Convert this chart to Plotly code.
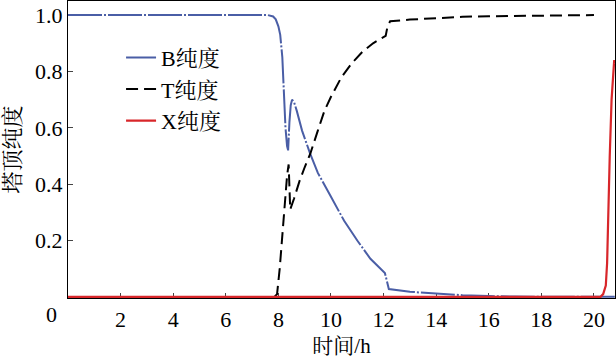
import plotly.graph_objects as go

# ---- data ----
t_B = [0, 7.6, 7.8, 7.9, 8.0, 8.07, 8.15, 8.2, 8.27, 8.33, 8.37, 8.42, 8.47, 8.52, 8.6, 8.7, 8.9, 9.2, 9.5,
       10.0, 10.5, 11.0, 11.5, 12.05, 12.12, 12.2, 13.0, 14.0, 15.0, 16.0, 17.0, 20.8]
B = [1.0, 1.0, 0.995, 0.985, 0.96, 0.93, 0.85, 0.72, 0.6, 0.535, 0.52, 0.62, 0.68, 0.70, 0.69, 0.66, 0.59, 0.51, 0.44,
     0.355, 0.27, 0.20, 0.135, 0.085, 0.06, 0.028, 0.018, 0.011, 0.006, 0.003, 0.001, 0.0]

t_T = [7.85, 7.95, 8.05, 8.15, 8.25, 8.33, 8.39, 8.45, 8.6, 8.8, 9.0, 9.22, 9.5, 9.75, 10.0, 10.4, 10.8,
       11.2, 11.6, 12.08, 12.15, 12.25, 13.0, 14.0, 15.0, 16.0, 18.0, 20.0]
T = [0, 0.01, 0.1, 0.22, 0.34, 0.43, 0.47, 0.31, 0.35, 0.41, 0.46, 0.51, 0.59, 0.66, 0.71, 0.78, 0.83,
     0.87, 0.90, 0.926, 0.96, 0.978, 0.984, 0.99, 0.994, 0.996, 0.998, 1.0]

t_X = [0, 20.25, 20.35, 20.45, 20.5, 20.55, 20.6, 20.67, 20.73, 20.77, 20.8]
X = [0, 0, 0.01, 0.04, 0.12, 0.34, 0.5, 0.70, 0.80, 0.84, 0.83]

x_ticks = [2, 4, 6, 8, 10, 12, 14, 16, 18, 20]
y_ticks = [0.2, 0.4, 0.6, 0.8, 1.0]
y_ticktext = ["0.2", "0.4", "0.6", "0.8", "1.0"]

FONT = '"Liberation Serif", "Noto Serif CJK SC", "Noto Sans CJK SC", serif'
TICKFONT = dict(family="Liberation Serif", size=22, color="black")

fig = go.Figure()
fig.add_trace(go.Scatter(x=t_B, y=B, mode="lines", name="B纯度", legendgroup="b",
                         line=dict(color="#4a5ea6", width=2, dash="34px,2px,2px,2px")))
fig.add_trace(go.Scatter(x=t_T, y=T, mode="lines", name="T纯度", legendgroup="t",
                         line=dict(color="#000000", width=2, dash="12px,6px")))
fig.add_trace(go.Scatter(x=t_X, y=X, mode="lines", name="X纯度", legendgroup="x",
                         line=dict(color="#d8262a", width=2.2)))

fig.update_layout(
    width=616, height=360,
    margin=dict(l=68, r=1, t=1, b=62),
    paper_bgcolor="white", plot_bgcolor="white",
    font=dict(family=FONT, size=22, color="black"),
    showlegend=True,
    legend=dict(x=0.097, y=0.88, xanchor="left", yanchor="top",
                bgcolor="rgba(0,0,0,0)", tracegroupgap=0,
                font=dict(family=FONT, size=22)),
    xaxis=dict(range=[0, 20.8], tickvals=x_ticks, ticks="inside", ticklen=5,
               tickfont=TICKFONT, ticklabelstandoff=2,
               showline=True, linecolor="black", linewidth=1, mirror=True,
               showgrid=False, zeroline=False, layer="below traces",
               title=dict(text="时间/h", standoff=6, font=dict(size=21))),
    yaxis=dict(range=[-0.004, 1.05], tickvals=y_ticks, ticktext=y_ticktext, ticks="inside", ticklen=5,
               tickfont=TICKFONT,
               showline=True, linecolor="black", linewidth=1, mirror=True,
               showgrid=False, zeroline=False, layer="below traces",
               title=dict(text="塔顶纯度", standoff=10, font=dict(size=22))),
)

fig.add_annotation(text="0", xref="paper", yref="paper", x=-0.03, y=-0.057,
                   xanchor="center", yanchor="middle", showarrow=False,
                   font=dict(family="Liberation Serif", size=22))

fig.write_html("out.html")
